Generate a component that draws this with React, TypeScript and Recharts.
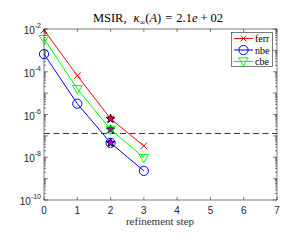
import React from 'react';
import { ComposedChart, Line, Scatter, XAxis, YAxis, ReferenceLine, Legend } from 'recharts';

const steps = [0, 1, 2, 3];
const ferr = [9.0e-3, 6.6e-5, 6.3e-7, 3.4e-8];
const nbe = [6.7e-4, 3.2e-6, 4.7e-8, 2.3e-9];
const cbe = [3.5e-3, 1.6e-5, 2.0e-7, 9.5e-9];
const stopStep = 2;
const tolerance = 1.3e-7;
const xTicks = [0, 1, 2, 3, 4, 5, 6, 7];
const yExponents = [-10, -9, -8, -7, -6, -5, -4, -3, -2];
const yLabeledExponents = [-10, -8, -6, -4, -2];
const seriesNames = ['ferr', 'nbe', 'cbe'];
const colors = { ferr: '#ff0000', nbe: '#0000ff', cbe: '#00ff00' };

const data = steps.map((s, i) => ({ step: s, ferr: ferr[i], nbe: nbe[i], cbe: cbe[i] }));
const starData = [
  { step: stopStep, v: ferr[steps.indexOf(stopStep)] },
  { step: stopStep, v: nbe[steps.indexOf(stopStep)] },
  { step: stopStep, v: cbe[steps.indexOf(stopStep)] },
];

const yTicks: number[] = [];
yExponents.forEach((e) => {
  if (e === -2) { yTicks.push(1e-2); return; }
  for (let m = 1; m <= 9; m++) yTicks.push(Number((m * Math.pow(10, e)).toPrecision(3)));
});
const isDecade = (v: number) => Math.abs(Math.log10(v) - Math.round(Math.log10(v))) < 1e-6;

const AX = '#262626';
const SERIF = '"Liberation Serif", "DejaVu Serif", serif';
const SANS = '"Liberation Sans", Arial, sans-serif';

function Cross({ cx, cy, color, s = 3.3 }: any) {
  return (
    <g stroke={color} strokeWidth={1}>
      <line x1={cx - s} y1={cy - s} x2={cx + s} y2={cy + s} />
      <line x1={cx - s} y1={cy + s} x2={cx + s} y2={cy - s} />
    </g>
  );
}
function Circ({ cx, cy, color }: any) {
  return <circle cx={cx} cy={cy} r={4.6} fill="none" stroke={color} strokeWidth={1} />;
}
function Tri({ cx, cy, color }: any) {
  const w = 4.8;
  return (
    <polygon
      points={`${cx - w},${cy - 3.2} ${cx + w},${cy - 3.2} ${cx},${cy + 5}`}
      fill="none"
      stroke={color}
      strokeWidth={1}
    />
  );
}
function Star(props: any) {
  const { cx, cy } = props;
  const R = 4.6, r = 1.9;
  const pts: string[] = [];
  for (let k = 0; k < 10; k++) {
    const rad = k % 2 === 0 ? R : r;
    const a = -Math.PI / 2 + (k * Math.PI) / 5;
    pts.push(`${cx + rad * Math.cos(a)},${cy + rad * Math.sin(a)}`);
  }
  return <polygon points={pts.join(' ')} fill="#cc00cc" stroke="#000" strokeWidth={1} />;
}

const markerFor = (name: string) => (p: any) => {
  const key = `${name}-${p.index}`;
  const c = (colors as any)[name];
  if (name === 'ferr') return <Cross key={key} cx={p.cx} cy={p.cy} color={c} />;
  if (name === 'nbe') return <Circ key={key} cx={p.cx} cy={p.cy} color={c} />;
  return <Tri key={key} cx={p.cx} cy={p.cy} color={c} />;
};

function LeftTick(props: any) {
  const { x, y, payload } = props;
  const v = payload.value;
  const dec = isDecade(v);
  const e = Math.round(Math.log10(v));
  const labeled = dec && yLabeledExponents.includes(e);
  return (
    <g>
      <line x1={x} y1={y} x2={x + (dec ? 4 : 2)} y2={y} stroke={AX} strokeWidth={0.6} />
      {labeled && (
        <text x={x - 3} y={y + 5} textAnchor="end" fontFamily={SANS} fontSize={10} fill={AX}>
          <tspan>10</tspan>
          <tspan fontSize={7} dy={-6}>{`-${Math.abs(e)}`}</tspan>
        </text>
      )}
    </g>
  );
}
function RightTick(props: any) {
  const { x, y, payload } = props;
  const dec = isDecade(payload.value);
  return <line x1={x} y1={y} x2={x - (dec ? 4 : 2)} y2={y} stroke={AX} strokeWidth={0.6} />;
}
function BottomTick(props: any) {
  const { x, y, payload } = props;
  return (
    <g>
      <line x1={x} y1={y} x2={x} y2={y - 3} stroke={AX} strokeWidth={0.6} />
      <text x={x} y={y + 14} textAnchor="middle" fontFamily={SANS} fontSize={10} fill={AX}>
        {payload.value}
      </text>
    </g>
  );
}
function TopTick(props: any) {
  const { x, y } = props;
  return <line x1={x} y1={y} x2={x} y2={y + 3} stroke={AX} strokeWidth={0.6} />;
}

function LegendBox() {
  const rows = [6.5, 18, 29.5];
  return (
    <svg width={42} height={36} style={{ display: 'block' }}>
      <rect x={0.5} y={0.5} width={41} height={34} fill="#fff" stroke={AX} strokeWidth={0.6} />
      {seriesNames.map((n, i) => {
        const c = (colors as any)[n];
        const y = rows[i];
        return (
          <g key={n}>
            <line x1={3} y1={y} x2={22} y2={y} stroke={c} strokeWidth={1} />
            {n === 'ferr' && <Cross cx={12.5} cy={y} color={c} s={2.8} />}
            {n === 'nbe' && <Circ cx={12.5} cy={y} color={c} />}
            {n === 'cbe' && <Tri cx={12.5} cy={y - 0.5} color={c} />}
            <text x={24} y={y + 3.5} fontFamily={SERIF} fontSize={10} fill="#000">{n}</text>
          </g>
        );
      })}
    </svg>
  );
}

export default function App() {
  return (
    <div style={{ position: 'absolute', left: 0, top: 0, width: 292, height: 240, background: '#fff' }}>
      <ComposedChart width={292} height={240} data={data} margin={{ top: 28, right: 14, bottom: 20, left: 10 }}>
        <XAxis
          xAxisId="b"
          dataKey="step"
          type="number"
          domain={[0, 7]}
          ticks={xTicks}
          interval={0}
          height={20}
          tickSize={0}
          tickMargin={0}
          tickLine={false}
          stroke={AX}
          axisLine={{ stroke: AX, strokeWidth: 0.6 }}
          tick={<BottomTick />}
        />
        <XAxis
          xAxisId="t"
          orientation="top"
          dataKey="step"
          type="number"
          domain={[0, 7]}
          ticks={xTicks}
          interval={0}
          height={1}
          tickSize={0}
          tickMargin={0}
          tickLine={false}
          axisLine={{ stroke: AX, strokeWidth: 0.6 }}
          tick={<TopTick />}
        />
        <YAxis
          yAxisId="l"
          scale="log"
          type="number"
          domain={[1e-10, 1e-2]}
          allowDataOverflow
          ticks={yTicks}
          interval={0}
          width={34}
          tickSize={0}
          tickMargin={0}
          tickLine={false}
          axisLine={{ stroke: AX, strokeWidth: 0.6 }}
          tick={<LeftTick />}
        />
        <YAxis
          yAxisId="r"
          orientation="right"
          scale="log"
          type="number"
          domain={[1e-10, 1e-2]}
          allowDataOverflow
          ticks={yTicks}
          interval={0}
          width={1}
          tickSize={0}
          tickMargin={0}
          tickLine={false}
          axisLine={{ stroke: AX, strokeWidth: 0.6 }}
          tick={<RightTick />}
        />
        <ReferenceLine xAxisId="b" yAxisId="l" y={tolerance} stroke="#333" strokeWidth={1} strokeDasharray="6 3.5" />
        {seriesNames.map((n) => (
          <Line
            key={n}
            xAxisId="b"
            yAxisId="l"
            dataKey={n}
            stroke={(colors as any)[n]}
            strokeWidth={1}
            dot={markerFor(n)}
            activeDot={false}
            isAnimationActive={false}
            type="linear"
          />
        ))}
        <Scatter
          xAxisId="b"
          yAxisId="l"
          data={starData}
          dataKey="v"
          shape={<Star />}
          isAnimationActive={false}
        />
        <Legend
          layout="horizontal"
          verticalAlign="middle"
          align="center"
          wrapperStyle={{ position: 'absolute', left: 231, top: 32, width: 42, height: 36 }}
          content={() => <LegendBox />}
        />
        <text x={158} y={22} textAnchor="middle" fontFamily={SERIF} fontSize={12.5} fill="#000">
          <tspan>MSIR,</tspan>
          <tspan fontStyle="italic" dx={7}>κ</tspan>
          <tspan fontSize={8} dy={2.5}>∞</tspan>
          <tspan dy={-2.5}>(</tspan>
          <tspan fontStyle="italic">A</tspan>
          <tspan>)</tspan>
          <tspan dx={4}>=</tspan>
          <tspan dx={4}>2.1</tspan>
          <tspan fontStyle="italic">e</tspan>
          <tspan dx={3}>+</tspan>
          <tspan dx={3}>02</tspan>
        </text>
        <text x={160} y={225} textAnchor="middle" fontFamily={SERIF} fontSize={11} fill="#333">
          refinement step
        </text>
      </ComposedChart>
    </div>
  );
}
